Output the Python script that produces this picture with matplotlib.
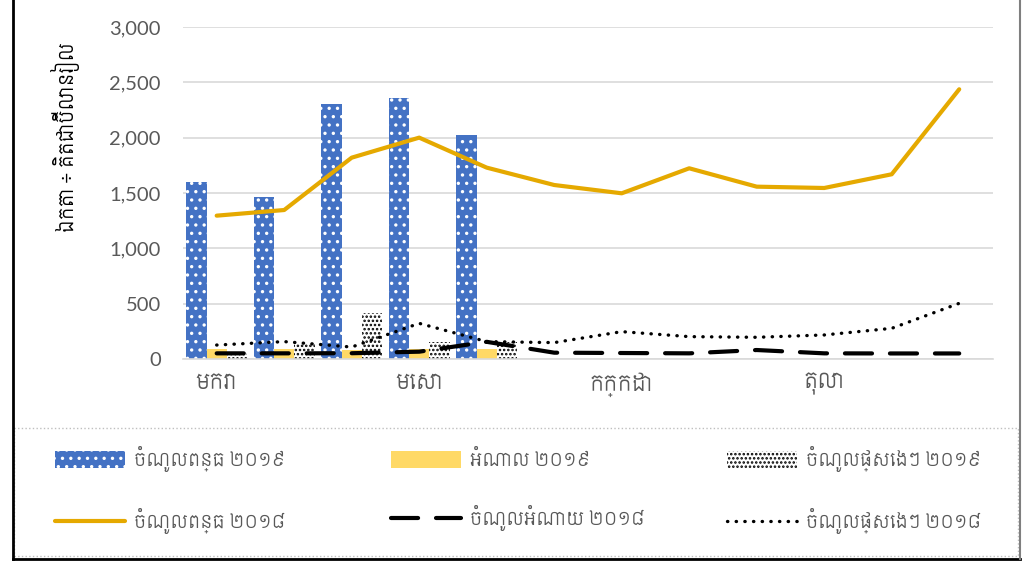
import matplotlib
matplotlib.use("Agg")
import matplotlib.pyplot as plt
from matplotlib.lines import Line2D
from matplotlib.patches import Rectangle

plt.rcParams['font.family'] = ['Lato', 'Siemreap', 'Noto Sans Khmer', 'DejaVu Sans']

months = ['មករា', 'កុម្ភៈ', 'មីនា', 'មេសា', 'ឧសភា', 'មិថុនា',
          'កក្កដា', 'សីហា', 'កញ្ញា', 'តុលា', 'វិច្ឆិកា', 'ធ្នូ']
tax_2019 = [1596, 1466, 2304, 2361, 2021]
grant_2019 = [87, 87, 82, 87, 87]
other_2019 = [65, 141, 413, 157, 157]
tax_2018 = [1295, 1346, 1819, 2000, 1729, 1572, 1497, 1723, 1557, 1545, 1669, 2437]
grant_2018 = [51, 51, 52, 66, 155, 57, 54, 51, 81, 51, 50, 50]
other_2018 = [126, 157, 108, 322, 157, 148, 247, 202, 196, 217, 277, 503]
labels = ['ចំណូលពន្ធ ២០១៩', 'អំណោល ២០១៩', 'ចំណូលផ្សេងៗ ២០១៩',
          'ចំណូលពន្ធ ២០១៨', 'ចំណូលអំណោយ ២០១៨', 'ចំណូលផ្សេងៗ ២០១៨']

plt.rcParams['hatch.linewidth'] = 1.2
fig = plt.figure(figsize=(10.22, 5.64), dpi=100)
ax = fig.add_axes([0.179, 0.3635, 0.7926, 0.5887])

x = list(range(len(months)))
w = 0.3
n = len(tax_2019)
b1 = ax.bar([i - w for i in x[:n]], tax_2019, w, color='#4472C4', edgecolor='white',
            hatch='..', linewidth=0, zorder=2)
b2 = ax.bar(x[:n], grant_2019, w, color='#FFD966', linewidth=0, zorder=2)
b3 = ax.bar([i + w for i in x[:n]], other_2019, w, color='white', edgecolor='black',
            hatch='....', linewidth=0, zorder=2)
l1, = ax.plot(x, tax_2018, color='#E5A900', lw=3, zorder=3, solid_capstyle='round')
l2, = ax.plot(x, grant_2018, color='black', lw=3, dashes=(6.5, 4.3),
              dash_capstyle='round', zorder=3)
l3, = ax.plot(x, other_2018, color='black', lw=2.4, linestyle=(0, (0.1, 2.5)),
              dash_capstyle='round', zorder=3)

ax.set_xlim(-0.5, 11.5)
ax.set_ylim(0, 3000)
ax.set_yticks(range(0, 3001, 500))
ax.yaxis.set_major_formatter(matplotlib.ticker.StrMethodFormatter('{x:,.0f}'))
ax.set_xticks([0, 3, 6, 9])
ax.set_xticklabels([months[i] for i in [0, 3, 6, 9]])
ax.grid(axis='y', color='#d9d9d9', lw=1.2, zorder=0)
for s in ['top', 'right', 'left']:
    ax.spines[s].set_visible(False)
ax.spines['bottom'].set_color('#d9d9d9')
ax.spines['bottom'].set_linewidth(1.2)
ax.tick_params(length=0, labelcolor='#595959')
ax.tick_params(axis='y', pad=16, labelsize=14.5)
ax.tick_params(axis='x', pad=10, labelsize=15)
fig.text(0.064, 0.757, 'ឯកតា ÷ គិតជាប៊ីលានរៀល', rotation=90, fontsize=13.5,
         ha='center', va='center')

# three legend columns, same pitch as the original
handles = [b1, b2, b3, l1, l2, l3]
for c, x0 in enumerate([55, 391, 727]):
    leg = fig.legend([handles[c], handles[c + 3]], [labels[c], labels[c + 3]],
                     loc='center left', bbox_to_anchor=(x0 / 1022, 1 - 490 / 564),
                     frameon=False, fontsize=13, handlelength=3.9, handleheight=1.1,
                     labelspacing=2.0, handletextpad=0.45, borderpad=0, borderaxespad=0)
    for t in leg.get_texts():
        t.set_color('#595959')

# legend box and outer border
fig.add_artist(Rectangle((14 / 1022, 8 / 564), 1004 / 1022, 128 / 564, transform=fig.transFigure,
                         fill=False, edgecolor='#bfbfbf', linestyle=':', lw=1))
fig.add_artist(Line2D([13 / 1022, 13 / 1022], [1, 5 / 564], color='black', lw=2,
                      transform=fig.transFigure))
fig.add_artist(Line2D([13 / 1022, 1020 / 1022], [5 / 564, 5 / 564], color='black', lw=2,
                      transform=fig.transFigure))
fig.add_artist(Line2D([1020 / 1022, 1020 / 1022], [1, 5 / 564], color='#7f7f7f', lw=1.5,
                      transform=fig.transFigure))

fig.savefig('out.png', dpi=100)
